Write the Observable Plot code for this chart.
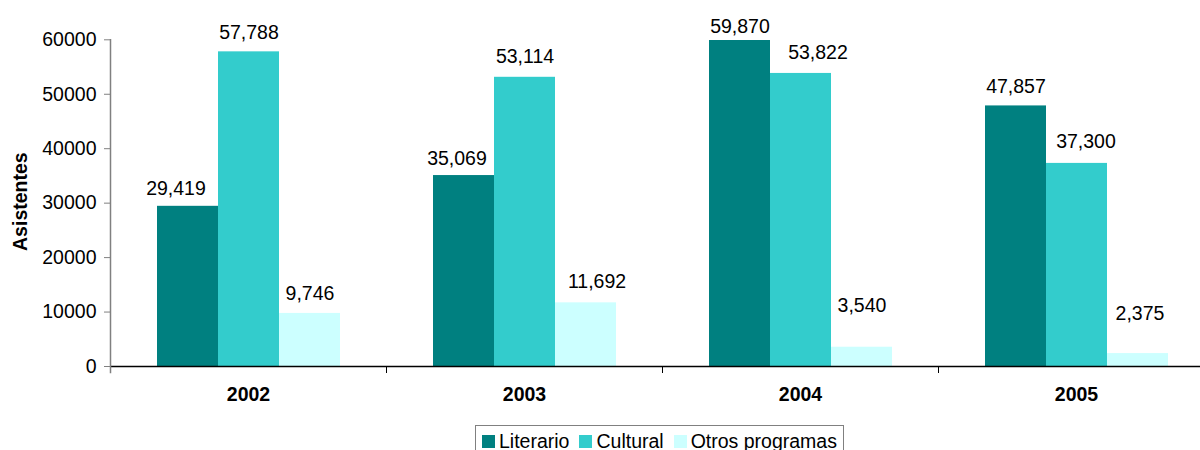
<!DOCTYPE html>
<html><head><meta charset="utf-8">
<script src="https://cdn.jsdelivr.net/npm/d3@7"></script>
<script src="https://cdn.jsdelivr.net/npm/@observablehq/plot@0.6"></script>
<style>
html,body{margin:0;padding:0;background:#fff;overflow:hidden;width:1200px;height:450px}
#chart{position:relative;width:1200px;height:450px;overflow:hidden;font-family:"Liberation Sans",Arial,sans-serif}
#chart svg{max-width:none !important;display:block}
#legend{position:absolute;left:475px;top:425px;height:32px;border:1px solid #808080;display:flex;align-items:center;padding:0 6px;font-size:19.5px;white-space:nowrap;background:#fff;color:#000;box-sizing:border-box}
#legend .item{display:flex;align-items:center;margin-right:10px}
#legend .item:last-child{margin-right:0}
#legend .sw{width:13px;height:13px;margin-right:4px}
</style></head><body><div id="chart"></div>
<script>
const years = ["2002", "2003", "2004", "2005"];
const series = ["Literario", "Cultural", "Otros programas"];
const literario = [29419, 35069, 59870, 47857];
const cultural = [57788, 53114, 53822, 37300];
const otros = [9746, 11692, 3540, 2375];
const yTicks = [0, 10000, 20000, 30000, 40000, 50000, 60000];
const colors = ["#008080", "#33CCCC", "#CCFFFF"];

// label placement nudges (px), mimicking the hand-placed labels of the original
const labelNudge = [
  [-12, 2], [0, 0], [0, 0],
  [-7, 2], [0, -1], [11, -2],
  [0, 5], [17, -1], [0, -22],
  [0, 0], [9, -2], [2, -21]
];

const valuesBySeries = [literario, cultural, otros];
const rows = years.flatMap((yr, i) => series.map((s, j) => ({year: yr, series: s, value: valuesBySeries[j][i]})));
const fmt = d3.format(",");

const labelMarks = rows.map((r, k) => Plot.text([r], {
  fx: "year", x: "series", y: "value",
  text: d => fmt(d.value),
  lineAnchor: "bottom", textAnchor: "middle",
  dx: labelNudge[k][0], dy: -13 + labelNudge[k][1],
  fill: "#000"
}));

const plot = Plot.plot({
  width: 1214, height: 427,
  marginLeft: 110, marginRight: 0, marginTop: 39.3, marginBottom: 55,
  style: {fontFamily: '"Liberation Sans", Arial, sans-serif', fontSize: "19.5px", color: "#000", background: "transparent", maxWidth: "none"},
  fx: {domain: years, padding: 0, label: null},
  x: {domain: series, paddingInner: 0, paddingOuter: 0.737, axis: null},
  y: {domain: [0, 60000], range: [366, 39.3], axis: null},
  color: {domain: series, range: colors},
  marks: [
    Plot.barY(rows, {fx: "year", x: "series", y: "value", fill: "series"}),
    Plot.frame({anchor: "left", stroke: "#000", insetTop: 326.7}),
    Plot.ruleY([0], {stroke: "#000", strokeWidth: 1.3}),
    Plot.frame({anchor: "left", stroke: "#808080", strokeWidth: 1.5, facetAnchor: "left"}),
    Plot.axisY({ticks: yTicks, tickFormat: d3.format("d"), tickSize: 6, tickPadding: 8, stroke: "#808080", fill: "#000", label: null}),
    Plot.text(["Asistentes"], {frameAnchor: "left", textAnchor: "middle", rotate: -90, dx: -89.5, dy: -4.5, fontWeight: "bold", fill: "#000", facetAnchor: "left"}),
    Plot.axisFx({anchor: "bottom", tickSize: 0, tickPadding: 15, fontWeight: "bold", label: null, fill: "#000"}),
    ...labelMarks
  ]
});
const chart = document.getElementById("chart");
chart.appendChild(plot);

const legend = document.createElement("div");
legend.id = "legend";
series.forEach((s, i) => {
  const item = document.createElement("span");
  item.className = "item";
  const sw = document.createElement("span");
  sw.className = "sw";
  sw.style.background = colors[i];
  const t = document.createElement("span");
  t.textContent = s;
  item.appendChild(sw); item.appendChild(t);
  legend.appendChild(item);
});
chart.appendChild(legend);
</script></body></html>
